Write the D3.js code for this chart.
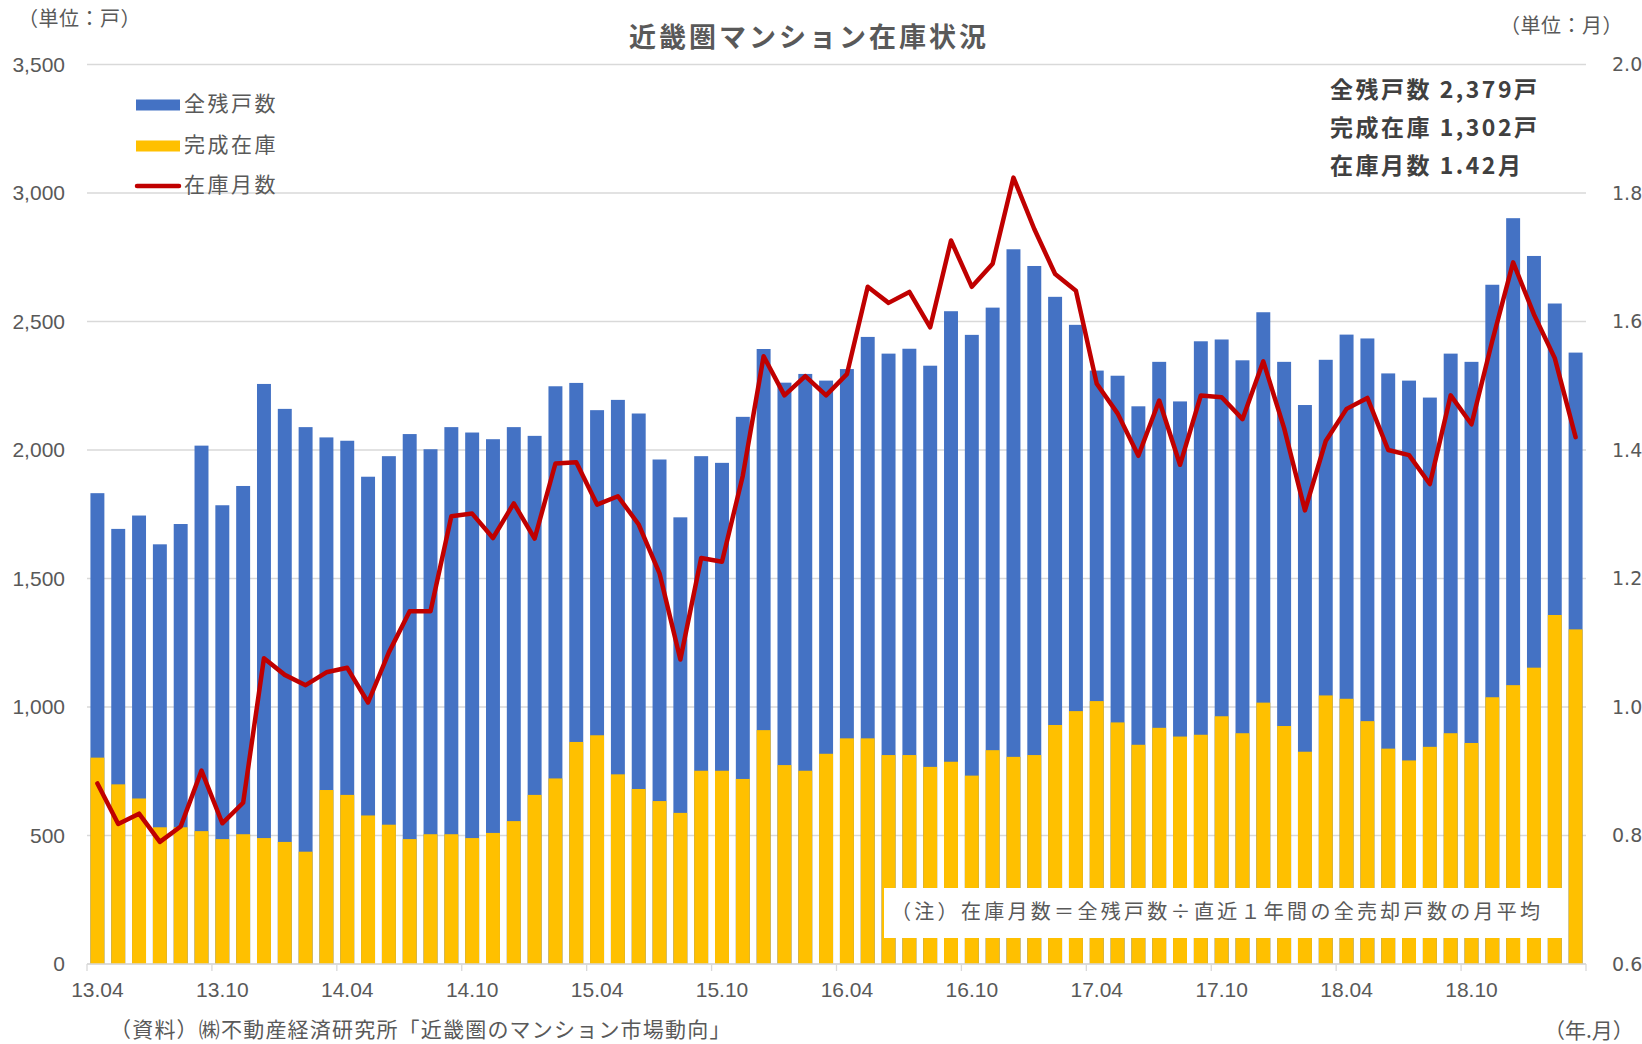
<!DOCTYPE html>
<html><head><meta charset="utf-8">
<script src="https://cdn.jsdelivr.net/npm/d3@7"></script>
<style>
body{margin:0;background:#fff;}
svg{display:block;}
</style></head><body>
<svg id="chart" width="1642" height="1044"></svg>
<script>
const categories = [
 "13.04","13.05","13.06","13.07","13.08","13.09","13.10","13.11","13.12",
 "14.01","14.02","14.03","14.04","14.05","14.06","14.07","14.08","14.09","14.10","14.11","14.12",
 "15.01","15.02","15.03","15.04","15.05","15.06","15.07","15.08","15.09","15.10","15.11","15.12",
 "16.01","16.02","16.03","16.04","16.05","16.06","16.07","16.08","16.09","16.10","16.11","16.12",
 "17.01","17.02","17.03","17.04","17.05","17.06","17.07","17.08","17.09","17.10","17.11","17.12",
 "18.01","18.02","18.03","18.04","18.05","18.06","18.07","18.08","18.09","18.10","18.11","18.12",
 "19.01","19.02","19.03"];
const totalUnits = [
 1832,1693,1745,1633,1712,2017,1785,1860,2257,
 2160,2089,2049,2036,1896,1976,2062,2003,2089,2068,2042,2089,
 2055,2248,2261,2155,2195,2142,1963,1738,1976,1950,2129,2393,
 2262,2296,2270,2315,2440,2375,2394,2328,2540,2448,2554,2781,
 2716,2596,2487,2309,2289,2170,2343,2189,2423,2430,2349,2536,
 2343,2175,2351,2449,2434,2298,2270,2204,2375,2343,2643,2902,
 2755,2570,2379];
const completedStock = [
 803,699,644,532,532,517,486,505,490,
 475,437,677,658,578,542,486,505,505,490,510,556,
 658,722,864,890,738,681,634,588,752,752,720,910,
 774,752,818,878,878,813,813,767,787,733,832,806,
 813,930,984,1023,940,853,919,885,892,964,898,1017,
 926,826,1045,1032,945,838,792,845,898,860,1038,1085,
 1153,1358,1302];
const stockMonths = [
 0.881,0.818,0.834,0.790,0.814,0.901,0.819,0.851,1.076,
 1.050,1.034,1.054,1.061,1.007,1.085,1.149,1.149,1.297,1.301,1.263,1.317,
 1.262,1.379,1.381,1.315,1.328,1.284,1.208,1.074,1.232,1.226,1.360,1.546,
 1.485,1.515,1.485,1.518,1.654,1.629,1.646,1.591,1.726,1.654,1.690,1.824,
 1.744,1.674,1.648,1.503,1.457,1.391,1.477,1.377,1.485,1.482,1.448,1.538,
 1.434,1.306,1.414,1.464,1.481,1.400,1.392,1.347,1.485,1.440,1.570,1.692,
 1.611,1.543,1.420];
const leftTicks = [0,500,1000,1500,2000,2500,3000,3500];
const rightTicks = [0.6,0.8,1.0,1.2,1.4,1.6,1.8,2.0];
const seriesNames = ["全残戸数","完成在庫","在庫月数"];
const summaryLines = ["全残戸数 2,379戸","完成在庫 1,302戸","在庫月数 1.42月"];
const titleText = "近畿圏マンション在庫状況";
const noteText = "（注）在庫月数＝全残戸数÷直近１年間の全売却戸数の月平均";
const sourceText = "（資料）㈱不動産経済研究所「近畿圏のマンション市場動向」";

const C_BLUE = "#4472C4", C_YEL = "#FFC000", C_RED = "#C00000";
const C_TXT = "#595959", C_GRID = "#D9D9D9";
const JP = "'Noto Sans CJK JP','Noto Sans',sans-serif";
const NARROW = "'Liberation Sans Narrow','Arial Narrow','Liberation Sans',sans-serif";

const svg = d3.select("#chart");
const L = 87, R = 1586, T = 64.5, B = 964;

const x = d3.scaleBand().domain(categories).range([L, R]).paddingInner(0.33).paddingOuter(0.165);
const yL = d3.scaleLinear().domain([0, 3500]).range([B, T]);
const yR = d3.scaleLinear().domain([0.6, 2.0]).range([B, T]);
const half = (x.step() - x.bandwidth()) / 2;

// gridlines
svg.append("g").selectAll("line").data(leftTicks).join("line")
  .attr("x1", L).attr("x2", R)
  .attr("y1", d => yL(d)).attr("y2", d => yL(d))
  .attr("stroke", C_GRID).attr("stroke-width", 1.3);

// left axis labels
const gL = svg.append("g").attr("transform", `translate(${L},0)`)
  .call(d3.axisLeft(yL).tickValues(leftTicks).tickFormat(d3.format(",")).tickSize(0).tickPadding(22));
gL.select(".domain").remove();
gL.selectAll("text").attr("font-family", NARROW).attr("font-size", 21).attr("fill", C_TXT);

// right axis labels
const gR = svg.append("g").attr("transform", `translate(${R},0)`)
  .call(d3.axisRight(yR).tickValues(rightTicks).tickFormat(d3.format(".1f")).tickSize(0).tickPadding(26));
gR.select(".domain").remove();
gR.selectAll("text").attr("font-family", "'DejaVu Sans',sans-serif").attr("font-size", 19).attr("fill", C_TXT);

// bars
const barG = svg.append("g");
barG.selectAll("rect.tot").data(categories).join("rect").attr("class", "tot")
  .attr("x", d => x(d)).attr("width", x.bandwidth())
  .attr("y", (d, i) => yL(totalUnits[i])).attr("height", (d, i) => B - yL(totalUnits[i]))
  .attr("fill", C_BLUE);
barG.selectAll("rect.cmp").data(categories).join("rect").attr("class", "cmp")
  .attr("x", d => x(d)).attr("width", x.bandwidth())
  .attr("y", (d, i) => yL(completedStock[i])).attr("height", (d, i) => B - yL(completedStock[i]))
  .attr("fill", C_YEL);

// x axis
const labelCats = categories.filter((d, i) => i % 6 === 0);
const gX = svg.append("g").attr("transform", `translate(0,${B})`)
  .call(d3.axisBottom(x).tickValues(labelCats).tickSize(0).tickPadding(18));
gX.select(".domain").attr("stroke", C_GRID).attr("stroke-width", 1.3)
  .attr("d", `M${L},0H${R}`);
gX.selectAll("text").attr("font-family", NARROW).attr("font-size", 21).attr("fill", C_TXT);
const tickCats = categories.filter((d, i) => i % 6 === 0);
svg.append("g").selectAll("line").data(tickCats.concat(["__end"])).join("line")
  .attr("x1", d => d === "__end" ? R : x(d) - half)
  .attr("x2", d => d === "__end" ? R : x(d) - half)
  .attr("y1", B).attr("y2", B + 7)
  .attr("stroke", C_GRID).attr("stroke-width", 1.3);

// note box
svg.append("rect").attr("x", 884).attr("y", 888).attr("width", 681).attr("height", 50).attr("fill", "#fff");
svg.append("text").attr("x", 891).attr("y", 914).attr("dominant-baseline", "middle")
  .attr("font-family", JP).attr("font-size", 20).attr("letter-spacing", 3.3)
  .attr("fill", C_TXT).text(noteText);

// line
const line = d3.line()
  .x((d, i) => x(categories[i]) + x.bandwidth() / 2)
  .y(d => yR(d));
svg.append("path").datum(stockMonths).attr("d", line)
  .attr("fill", "none").attr("stroke", C_RED).attr("stroke-width", 4.5)
  .attr("stroke-linejoin", "round").attr("stroke-linecap", "round");

// legend
const legY = [105, 146, 186];
const lg = svg.append("g");
lg.append("rect").attr("x", 136).attr("y", legY[0] - 5.5).attr("width", 44).attr("height", 11).attr("fill", C_BLUE);
lg.append("rect").attr("x", 136).attr("y", legY[1] - 5.5).attr("width", 44).attr("height", 11).attr("fill", C_YEL);
lg.append("line").attr("x1", 137).attr("x2", 179).attr("y1", legY[2]).attr("y2", legY[2])
  .attr("stroke", C_RED).attr("stroke-width", 4.5).attr("stroke-linecap", "round");
lg.selectAll("text").data(seriesNames).join("text")
  .attr("x", 184).attr("y", (d, i) => legY[i]).attr("dominant-baseline", "middle")
  .attr("font-family", JP).attr("font-size", 21).attr("letter-spacing", 2.5)
  .attr("fill", C_TXT).text(d => d);

// title
svg.append("text").attr("x", 809).attr("y", 40).attr("text-anchor", "middle").attr("dominant-baseline", "middle")
  .attr("font-family", JP).attr("font-weight", "bold").attr("font-size", 27).attr("letter-spacing", 3)
  .attr("fill", C_TXT).text(titleText);

// summary
svg.append("g").selectAll("text").data(summaryLines).join("text")
  .attr("x", 1330).attr("y", (d, i) => 92 + i * 38).attr("dominant-baseline", "middle")
  .attr("font-family", JP).attr("font-weight", "bold").attr("font-size", 23).attr("letter-spacing", 2.5)
  .attr("fill", "#404040").text(d => d);

// units and source
svg.append("text").attr("x", 18).attr("y", 21).attr("dominant-baseline", "middle")
  .attr("font-family", JP).attr("font-size", 20).attr("letter-spacing", 0.5).attr("fill", C_TXT).text("（単位：戸）");
svg.append("text").attr("x", 1500).attr("y", 28).attr("dominant-baseline", "middle")
  .attr("font-family", JP).attr("font-size", 20).attr("letter-spacing", 0.5).attr("fill", C_TXT).text("（単位：月）");
svg.append("text").attr("x", 1544).attr("y", 1032).attr("dominant-baseline", "middle")
  .attr("font-family", JP).attr("font-size", 21).attr("fill", C_TXT).text("（年.月）");
svg.append("text").attr("x", 110).attr("y", 1031).attr("dominant-baseline", "middle")
  .attr("font-family", JP).attr("font-size", 21).attr("letter-spacing", 1.2).attr("fill", C_TXT).text(sourceText);
</script>
</body></html>
